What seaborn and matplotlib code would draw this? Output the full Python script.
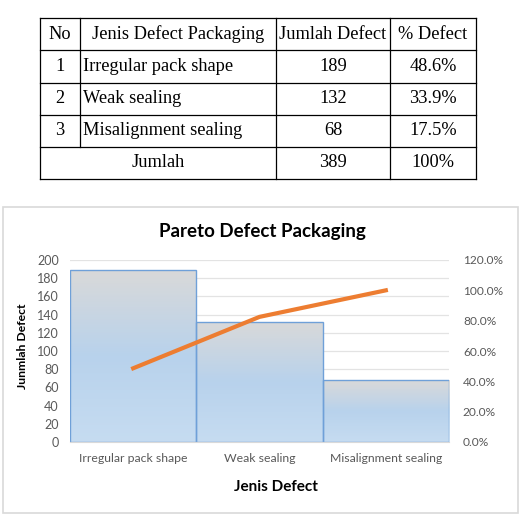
import pandas as pd
import seaborn as sns
import matplotlib.pyplot as plt
import numpy as np
from matplotlib.patches import Rectangle
from matplotlib.colors import LinearSegmentedColormap
from matplotlib.ticker import PercentFormatter

# Data
jenis = ['Irregular pack shape', 'Weak sealing', 'Misalignment sealing']
jumlah = [189, 132, 68]
persen = ['48.6%', '33.9%', '17.5%']
kumulatif = [48.6, 82.5, 100.0]
total_jumlah = '389'
total_persen = '100%'

W, H = 524, 522
fig = plt.figure(figsize=(W / 100, H / 100), dpi=100)

# ----------------------------------------------------------------------------
# Tabel di atas (dibuat manual dengan garis dan teks)
tab = fig.add_axes([0, 0, 1, 1])
tab.set_xlim(0, W)
tab.set_ylim(H, 0)
tab.axis('off')

cols = [40, 80, 276, 390, 476]
rows = [18, 50.3, 82.5, 114.7, 146.8, 179]
serif = 'Liberation Serif'
fs = 13.2

for i, y in enumerate(rows):
    tab.plot([cols[0], cols[-1]], [y, y], color='black', lw=0.9)
for j, x in enumerate(cols):
    y_end = rows[-1] if j != 1 else rows[-2]
    tab.plot([x, x], [rows[0], y_end], color='black', lw=0.9)

def mid(a, b):
    return (a + b) / 2

header = ['No', 'Jenis Defect Packaging', 'Jumlah Defect', '% Defect']
for j, h in enumerate(header):
    tab.text(mid(cols[j], cols[j + 1]), mid(rows[0], rows[1]), h, family=serif,
             fontsize=fs, ha='center', va='center')

for i in range(len(jenis)):
    yc = mid(rows[i + 1], rows[i + 2])
    tab.text(mid(cols[0], cols[1]), yc, str(i + 1), family=serif, fontsize=fs,
             ha='center', va='center')
    tab.text(cols[1] + 3, yc, jenis[i], family=serif, fontsize=fs,
             ha='left', va='center')
    tab.text(mid(cols[2], cols[3]), yc, str(jumlah[i]), family=serif, fontsize=fs,
             ha='center', va='center')
    tab.text(mid(cols[3], cols[4]), yc, persen[i], family=serif, fontsize=fs,
             ha='center', va='center')

yc = mid(rows[4], rows[5])
tab.text(mid(cols[0], cols[2]), yc, 'Jumlah', family=serif, fontsize=fs, ha='center', va='center')
tab.text(mid(cols[2], cols[3]), yc, total_jumlah, family=serif, fontsize=fs, ha='center', va='center')
tab.text(mid(cols[3], cols[4]), yc, total_persen, family=serif, fontsize=fs, ha='center', va='center')

# Kotak grafik
tab.add_patch(Rectangle((3, 207), 515, 306, fill=False, edgecolor='#D9D9D9', lw=1.2))

# ----------------------------------------------------------------------------
# Grafik pareto
plt.rcParams['font.family'] = ['Lato', 'DejaVu Sans']
grey = '#595959'

ax = fig.add_axes([70 / W, 1 - 442 / H, 379 / W, 182 / H])
df = pd.DataFrame({'Jenis': jenis, 'Jumlah': jumlah})
sns.barplot(x='Jenis', y='Jumlah', data=df, width=1.0, color='#BDD7EE',
            edgecolor='#6FA0D8', linewidth=1.0, ax=ax, zorder=2)

ax.set_xlim(-0.5, 2.5)
ax.set_ylim(0, 200)
ax.set_yticks(range(0, 201, 20))
ax.grid(axis='y', color='#E3E3E3', lw=0.9, zorder=0)
ax.set_axisbelow(True)
for s in ['top', 'right', 'left']:
    ax.spines[s].set_visible(False)
ax.spines['bottom'].set_color('#D9D9D9')
ax.tick_params(axis='x', length=0, labelsize=8.8, colors=grey, pad=8)
ax.tick_params(axis='y', length=0, labelsize=9, colors=grey, pad=8)

# Isi bar dengan gradasi abu-abu ke biru
cmap = LinearSegmentedColormap.from_list('grad', ['#D9D9D9', '#B8D2EC', '#C6DCF1'])
grad = np.linspace(0, 1, 256).reshape(-1, 1)
for p in list(ax.patches):
    x0 = p.get_x()
    w = p.get_width()
    h = p.get_height()
    p.set_facecolor('none')
    im = ax.imshow(grad, cmap=cmap, aspect='auto', extent=[x0, x0 + w, 0, h],
                   origin='upper', zorder=1.5)
    im.set_clip_path(p)
ax.set_xlim(-0.5, 2.5)
ax.set_ylim(0, 200)

ax.set_xlabel('Jenis Defect', fontsize=11, fontweight='bold')
ax.xaxis.set_label_coords((276 - 70) / 379, -0.21)
ax.set_ylabel('Junmlah Defect', fontsize=8.8, fontweight='bold')
ax.yaxis.set_label_coords((28 - 70) / 379, (442 - 346) / 182)

ax2 = ax.twinx()
sns.lineplot(x=jenis, y=kumulatif, color='#ED7D31', lw=3, ax=ax2, zorder=3)
ax2.set_ylim(0, 120)
ax2.set_yticks(range(0, 121, 20))
ax2.yaxis.set_major_formatter(PercentFormatter(decimals=1))
for s in ax2.spines.values():
    s.set_visible(False)
ax2.tick_params(length=0, labelsize=8.6, colors=grey, pad=10)
ax2.set_ylabel('')

fig.text(262 / W, 1 - 232 / H, 'Pareto Defect Packaging', fontsize=13.5,
         fontweight='bold', ha='center', va='center', color='black')

fig.savefig('out.png', dpi=100)
